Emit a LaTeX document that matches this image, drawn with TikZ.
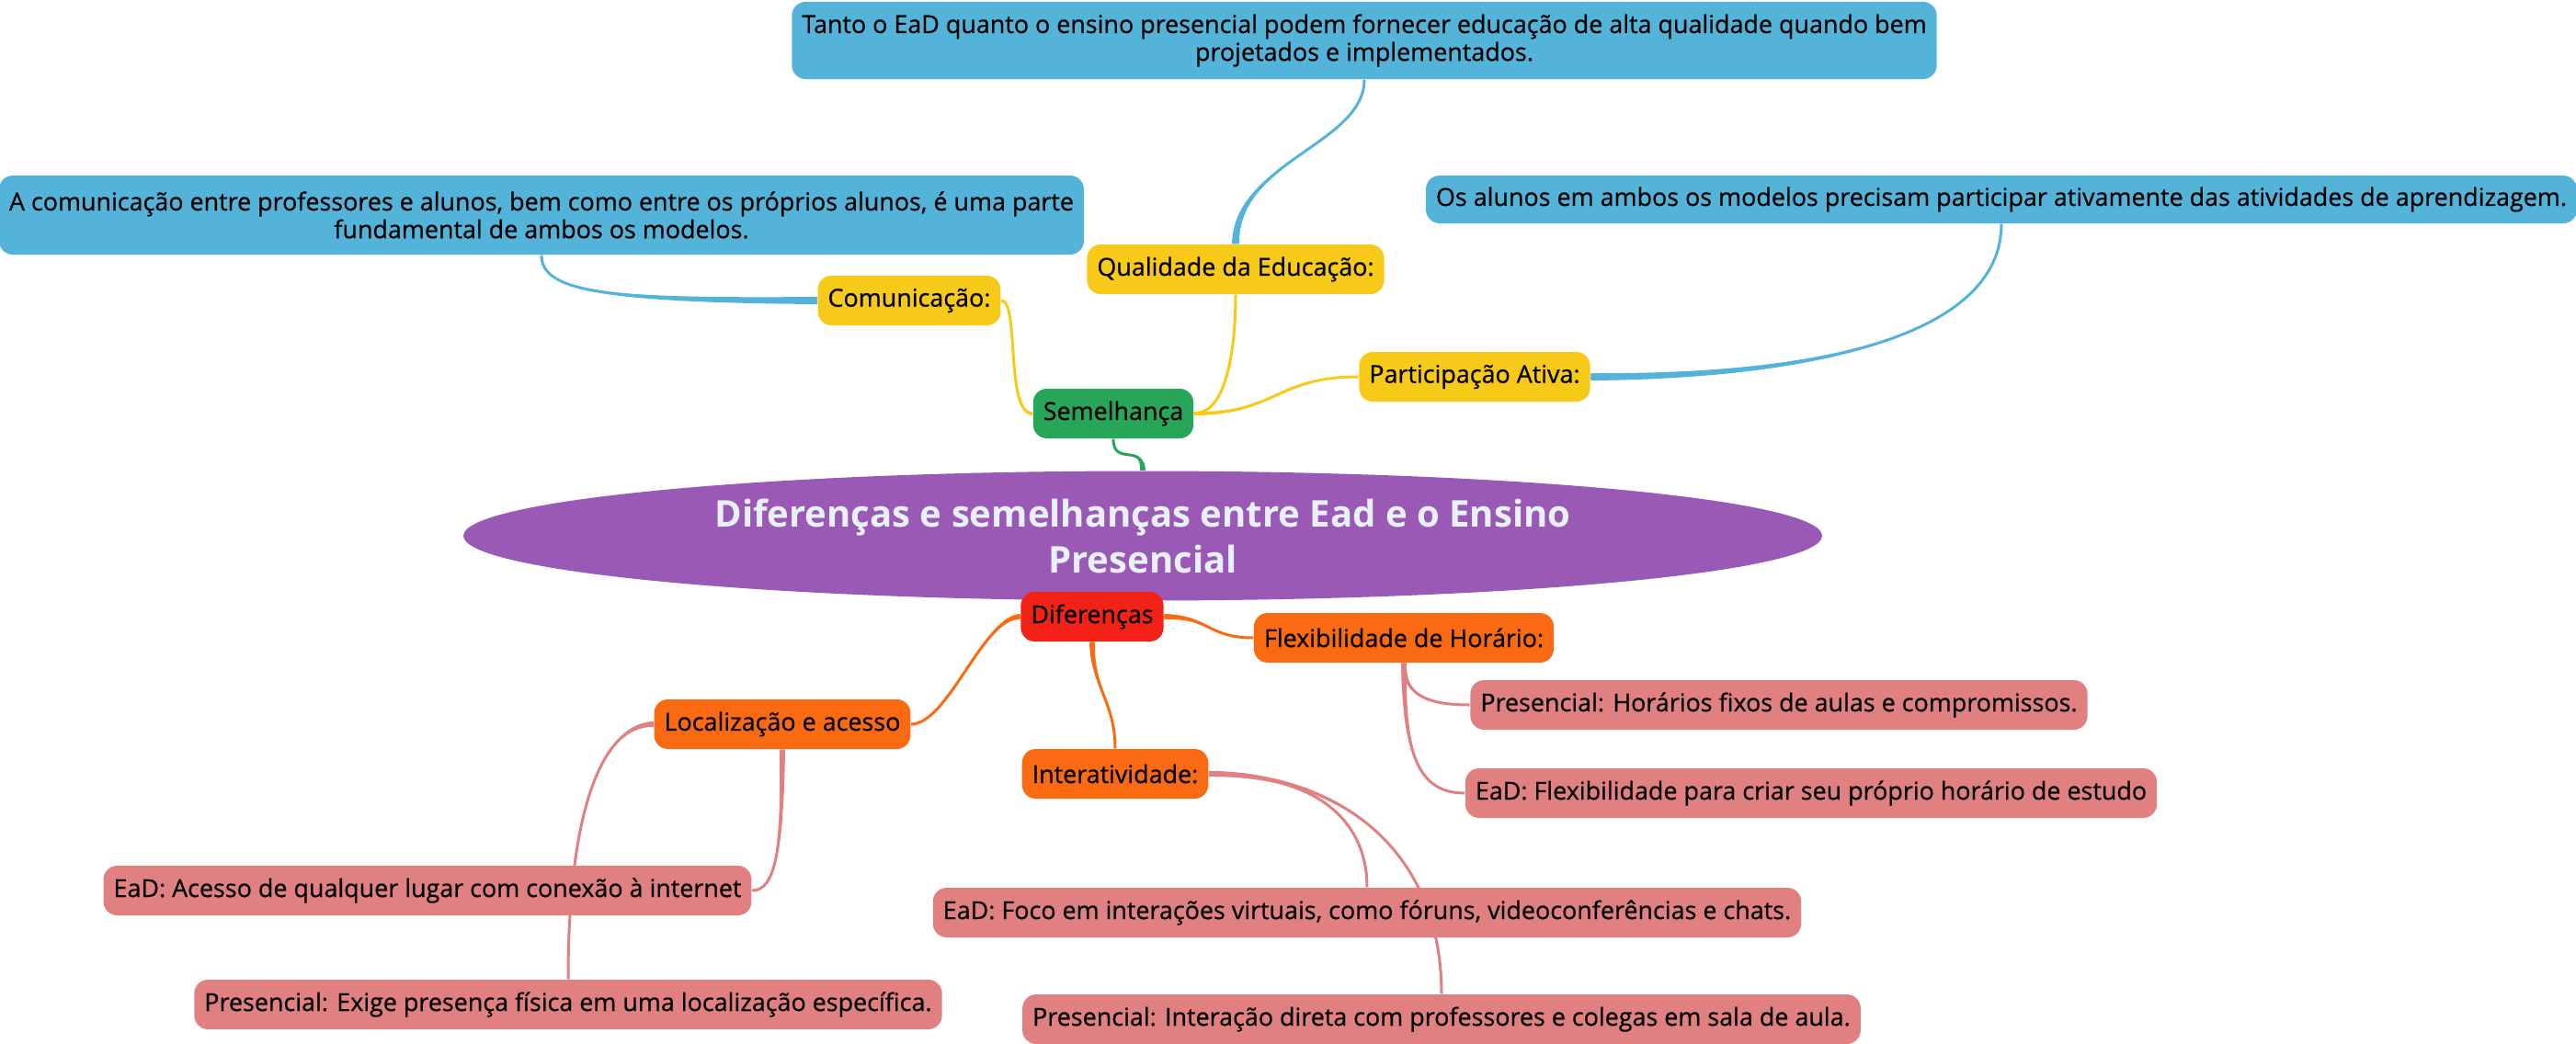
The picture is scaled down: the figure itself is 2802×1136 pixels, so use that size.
\documentclass[tikz,border=0pt]{standalone}
\usepackage{fontspec}
\setmainfont{Open Sans}
\newfontfamily\semib{Open Sans}[FakeBold=0.6]
\usetikzlibrary{calc,shapes.geometric,backgrounds}
\definecolor{cblue}{RGB}{84,179,217}
\definecolor{cyellow}{RGB}{247,201,24}
\definecolor{cgreen}{RGB}{39,166,90}
\definecolor{cpurple}{RGB}{155,89,182}
\definecolor{cred}{RGB}{242,35,22}
\definecolor{corange}{RGB}{249,106,18}
\definecolor{cpink}{RGB}{224,128,128}
\definecolor{ctitle}{RGB}{232,241,251}
\tikzset{
  box/.style={rounded corners=1.5mm, inner xsep=1.1mm, inner ysep=0mm, minimum height=5.4mm,
    font=\semib\fontsize{7.65pt}{8.6pt}\selectfont, text=black, align=center},
  bluebox/.style={box, fill=cblue},
  yellowbox/.style={box, fill=cyellow},
  greenbox/.style={box, fill=cgreen},
  redbox/.style={box, fill=cred},
  orangebox/.style={box, fill=corange},
  pinkbox/.style={box, fill=cpink},
  rootnode/.style={ellipse, fill=cpurple, text=ctitle, inner sep=0pt, minimum width=147.8mm,
    minimum height=14.1mm, align=center, font=\fontsize{11.4pt}{14.2pt}\selectfont\bfseries}
}
% tapered connector: colour, start, start-control offset, end, end-control offset, half width at start
\newcommand\tconn[6]{%
  \fill[#1] ($(#2)+(#6)$) .. controls ($(#2)+(#3)+0.5*(#6)$) and ($(#4)+(#5)$) .. (#4)
     .. controls ($(#4)+(#5)$) and ($(#2)+(#3)-0.5*(#6)$) .. ($(#2)-(#6)$) -- cycle;
  \draw[#1, line width=0.3mm] (#2) .. controls ($(#2)+(#3)$) and ($(#4)+(#5)$) .. (#4);
}
\begin{document}
\begin{tikzpicture}[x=0.1mm,y=-0.1mm]
\useasboundingbox (0,0) rectangle (2802,1136);
% nodes
\node[rootnode] (root) at (1243,583) {Diferenças e semelhanças entre Ead e o Ensino\\Presencial};
\node[greenbox] (sem) at (1211,450) {Semelhança};
\node[redbox] (dif) at (1188,671) {Diferenças};
\node[yellowbox] (comm) at (989,327) {Comunicação:};
\node[yellowbox] (qual) at (1344,293) {Qualidade da Educação:};
\node[yellowbox] (part) at (1604,410) {Participação Ativa:};
\node[bluebox, minimum height=8.4mm] (top) at (1484,44) {Tanto o EaD quanto o ensino presencial podem fornecer educação de alta qualidade quando bem\\projetados e implementados.};
\node[bluebox, minimum height=8.6mm] (boxa) at (589,234) {A comunicação entre professores e alunos, bem como entre os próprios alunos, é uma parte\\fundamental de ambos os modelos.};
\node[bluebox, minimum height=5.2mm] (alunos) at (2177,217) {Os alunos em ambos os modelos precisam participar ativamente das atividades de aprendizagem.};
\node[orangebox] (flex) at (1527,694) {Flexibilidade de Horário:};
\node[orangebox] (loc) at (851,788) {Localização e acesso};
\node[orangebox] (inter) at (1213,842) {Interatividade:};
\node[pinkbox] (hor) at (1935,767) {Presencial: Horários fixos de aulas e compromissos.};
\node[pinkbox] (eadflex) at (1970,863) {EaD: Flexibilidade para criar seu próprio horário de estudo};
\node[pinkbox] (acesso) at (465,969) {EaD: Acesso de qualquer lugar com conexão à internet};
\node[pinkbox] (exige) at (618,1093) {Presencial: Exige presença física em uma localização específica.};
\node[pinkbox] (foco) at (1487,993) {EaD: Foco em interações virtuais, como fóruns, videoconferências e chats.};
\node[pinkbox] (interacao) at (1568,1109) {Presencial: Interação direta com professores e colegas em sala de aula.};
% connectors
\begin{scope}[on background layer]
\fill[white] (0,0) rectangle (2802,1136);
\tconn{cgreen}{root.north}{0,-30}{sem.south}{0,30}{3,0}
\tconn{cyellow}{sem.west}{-30,0}{comm.east}{20,0}{0,2}
\tconn{cyellow}{sem.east}{35,0}{qual.south}{0,60}{0,2}
\tconn{cyellow}{sem.east}{90,0}{part.west}{-90,0}{0,2}
\tconn{cblue}{comm.west}{-230,0}{boxa.south}{0,40}{0,4}
\tconn{cblue}{qual.north}{0,-90}{top.south}{0,70}{4,0}
\tconn{cblue}{part.east}{250,0}{alunos.south}{0,120}{0,4}
\tconn{corange}{dif.east}{50,0}{flex.west}{-50,0}{0,3}
\tconn{corange}{dif.west}{-40,0}{loc.east}{40,0}{0,3}
\tconn{corange}{dif.south}{0,50}{inter.north}{0,-50}{3,0}
\tconn{cpink}{flex.south}{0,35}{hor.west}{-45,0}{3,0}
\tconn{cpink}{flex.south}{0,100}{eadflex.west}{-50,0}{3,0}
\tconn{cpink}{loc.south}{0,110}{acesso.east}{25,0}{3,0}
\tconn{cpink}{loc.west}{-50,0}{exige.north}{0,-200}{0,3}
\tconn{cpink}{inter.east}{120,0}{foco.north}{0,-70}{0,3}
\tconn{cpink}{inter.east}{150,0}{interacao.north}{0,-150}{0,3}
\end{scope}
\end{tikzpicture}
\end{document}
